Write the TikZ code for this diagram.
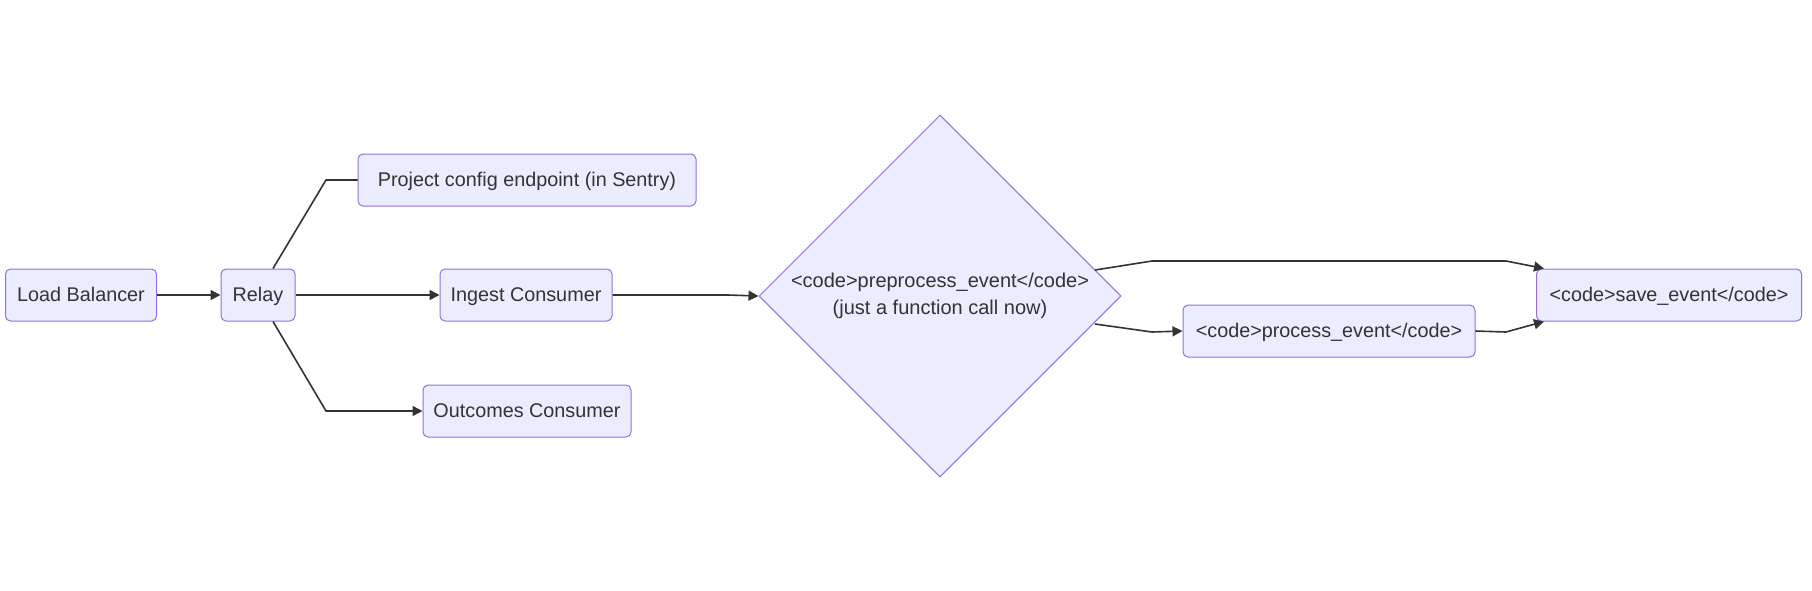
\documentclass[tikz,border=0pt]{standalone}
\usepackage{fontspec}
\setmainfont{Liberation Sans}
\usepackage{tikz}
\usetikzlibrary{arrows.meta,shapes.geometric}
\usepackage{xcolor}
\definecolor{nodefill}{HTML}{ECECFF}
\definecolor{nodeline}{HTML}{9370DB}
\definecolor{edgeline}{HTML}{333333}

\tikzset{
  box/.style={draw=nodeline, fill=nodefill, line width=0.5pt, rounded corners=2.5pt,
    minimum height=26pt, inner sep=0pt, text height=0.8em, text depth=0.18em,
    text=edgeline, font=\fontsize{9.9}{12}\selectfont},
  decision/.style={diamond, draw=nodeline, fill=nodefill, line width=0.5pt, aspect=1,
    minimum width=181pt, minimum height=181pt, inner sep=0pt, align=center,
    text=edgeline, font=\fontsize{10}{13.5}\selectfont},
  link/.style={draw=edgeline, line width=0.8pt},
  flow/.style={link, -{Triangle[length=5pt,width=5pt]}}
}

\begin{document}
\begin{tikzpicture}[x=0.5pt, y=-0.5pt]
\useasboundingbox (0,0) rectangle (1812,590);
\node[box, minimum width=75.5pt] (lb) at (81,295) {Load Balancer};
\node[box, minimum width=37pt] (relay) at (258,295) {Relay};
\node[box, minimum width=169pt] (config) at (527,180) {Project config endpoint (in Sentry)};
\node[box, minimum width=86pt] (ingest) at (526,295) {Ingest Consumer};
\node[box, minimum width=104pt] (outcomes) at (527,411) {Outcomes Consumer};
\node[decision] (pre) at (940,296) {<code>preprocess\_event</code>\\(just a function call now)};
\node[box, minimum width=146pt] (proc) at (1329,331) {<code>process\_event</code>};
\node[box, minimum width=132.5pt] (save) at (1669,295) {<code>save\_event</code>};

\coordinate (up) at (326,180);
\coordinate (down) at (326,411);
\coordinate (hi1) at (1152,261);
\coordinate (hi2) at (1506,261);
\coordinate (lo1) at (1152,332);
\coordinate (lo2) at (1506,332);

\draw[flow] (lb) -- (relay);
\draw[link] ([xshift=7.5pt]relay.north) -- (up) -- (config.west);
\draw[flow] (relay) -- (ingest);
\draw[flow] ([xshift=7.5pt]relay.south) -- (down) -- (outcomes.west);
\draw[flow] (ingest) -- (728,295) -- (pre.west);
\draw[flow] (1095,270) -- (hi1) -- (hi2) -- ([xshift=4pt]save.north west);
\draw[flow] (1095,324) -- (lo1) -- (proc.west);
\draw[flow] (proc.east) -- (lo2) -- ([xshift=4pt]save.south west);
\end{tikzpicture}
\end{document}
